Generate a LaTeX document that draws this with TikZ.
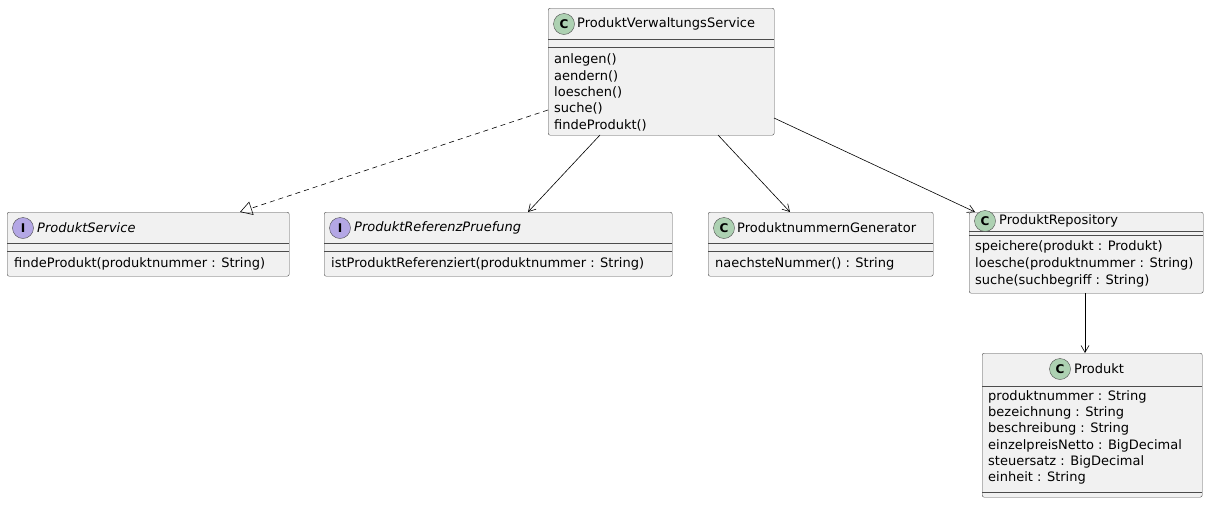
\documentclass[tikz,border=0pt]{standalone}
\usepackage{fontspec}
\setmainfont{DejaVu Sans}
\usetikzlibrary{arrows.meta,calc}
\definecolor{boxbg}{HTML}{F1F1F1}
\definecolor{cgreen}{HTML}{ADD1B2}
\definecolor{ipurple}{HTML}{B4A7E5}
\tikzset{
  umlbox/.style={draw=black!70, fill=boxbg, rounded corners=2pt, anchor=north west, inner sep=0pt},
  sep/.style={draw=black!70, line width=0.5pt},
  txt/.style={anchor=west, inner sep=0pt, font=\fontsize{13}{16}\selectfont},
  itxt/.style={txt, font=\fontsize{13}{16}\selectfont\itshape},
  icon/.style={circle, draw=black!70, minimum size=21pt, inner sep=0pt, font=\fontsize{12}{12}\selectfont\bfseries},
  conn/.style={-{Straight Barb[length=7pt,width=8pt]}, line width=0.6pt},
  real/.style={dash pattern=on 5pt off 4pt, -{Triangle[open,length=12pt,width=14pt]}, line width=0.6pt}
}
% name x y w h
\newcommand{\umlcls}[5]{%
  \node[umlbox, minimum width=#4pt, minimum height=#5pt] (#1) at (#2,#3) {};
}
\begin{document}
\begin{tikzpicture}[x=1pt,y=-1pt]
\useasboundingbox (0,0) rectangle (1220,504);
% ProduktVerwaltungsService
\umlcls{pvs}{548}{8}{226}{127}
\draw[sep] (548,39) -- (774,39);
\draw[sep] (548,47) -- (774,47);
\node[icon, fill=cgreen] (pvsi) at (564,24) {C};
\node[txt] (pvst) at (577,24) {ProduktVerwaltungsService};
\node[txt] (pvs1) at (554,60) {anlegen()};
\node[txt] (pvs2) at (554,76.25) {aendern()};
\node[txt] (pvs3) at (554,92.5) {loeschen()};
\node[txt] (pvs4) at (554,108.75) {suche()};
\node[txt] (pvs5) at (554,125) {findeProdukt()};
% ProduktService
\umlcls{ps}{7}{212}{282}{64}
\draw[sep] (7,243) -- (289,243);
\draw[sep] (7,251) -- (289,251);
\node[icon, fill=ipurple] (psi) at (23,228) {I};
\node[itxt] (pst) at (37,228) {ProduktService};
\node[txt] (psm) at (14,264) {findeProdukt(produktnummer : String)};
% ProduktReferenzPruefung
\umlcls{prp}{324}{212}{348}{64}
\draw[sep] (324,243) -- (672,243);
\draw[sep] (324,251) -- (672,251);
\node[icon, fill=ipurple] (prpi) at (340,228) {I};
\node[itxt] (prpt) at (354,228) {ProduktReferenzPruefung};
\node[txt] (prpm) at (331,264) {istProduktReferenziert(produktnummer : String)};
% ProduktnummernGenerator
\umlcls{png}{708}{212}{225}{64}
\draw[sep] (708,243) -- (933,243);
\draw[sep] (708,251) -- (933,251);
\node[icon, fill=cgreen] (pngi) at (724,228) {C};
\node[txt] (pngt) at (737,228) {ProduktnummernGenerator};
\node[txt] (pngm) at (715,264) {naechsteNummer() : String};
% ProduktRepository
\umlcls{pr}{969}{212}{234}{81}
\draw[sep] (969,231) -- (1203,231);
\draw[sep] (969,235) -- (1203,235);
\node[icon, fill=cgreen] (pri) at (985,221) {C};
\node[txt] (prt) at (999,221) {ProduktRepository};
\node[txt] (pr1) at (975,247) {speichere(produkt : Produkt)};
\node[txt] (pr2) at (975,264) {loesche(produktnummer : String)};
\node[txt] (pr3) at (975,281) {suche(suchbegriff : String)};
% Produkt
\umlcls{p}{982}{353}{220}{144}
\draw[sep] (982,386) -- (1202,386);
\draw[sep] (982,492) -- (1202,492);
\node[icon, fill=cgreen] (pi) at (1060,369) {C};
\node[txt] (pt) at (1074,369) {Produkt};
\node[txt] (p1) at (988,397) {produktnummer : String};
\node[txt] (p2) at (988,413.2) {bezeichnung : String};
\node[txt] (p3) at (988,429.4) {beschreibung : String};
\node[txt] (p4) at (988,445.6) {einzelpreisNetto : BigDecimal};
\node[txt] (p5) at (988,461.8) {steuersatz : BigDecimal};
\node[txt] (p6) at (988,478) {einheit : String};
% connectors
\coordinate (a1) at (548,110);
\coordinate (a2) at (240,212);
\draw[real] (a1) -- (a2);
\coordinate (b1) at (600,135);
\coordinate (b2) at (528,212);
\draw[conn] (b1) -- (b2);
\coordinate (c1) at (718,135);
\coordinate (c2) at (790,212);
\draw[conn] (c1) -- (c2);
\coordinate (d1) at (774,118);
\coordinate (d2) at (975,212);
\draw[conn] (d1) -- (d2);
\coordinate (e1) at (1085,293);
\coordinate (e2) at (1085,353);
\draw[conn] (e1) -- (e2);
\end{tikzpicture}
\end{document}
